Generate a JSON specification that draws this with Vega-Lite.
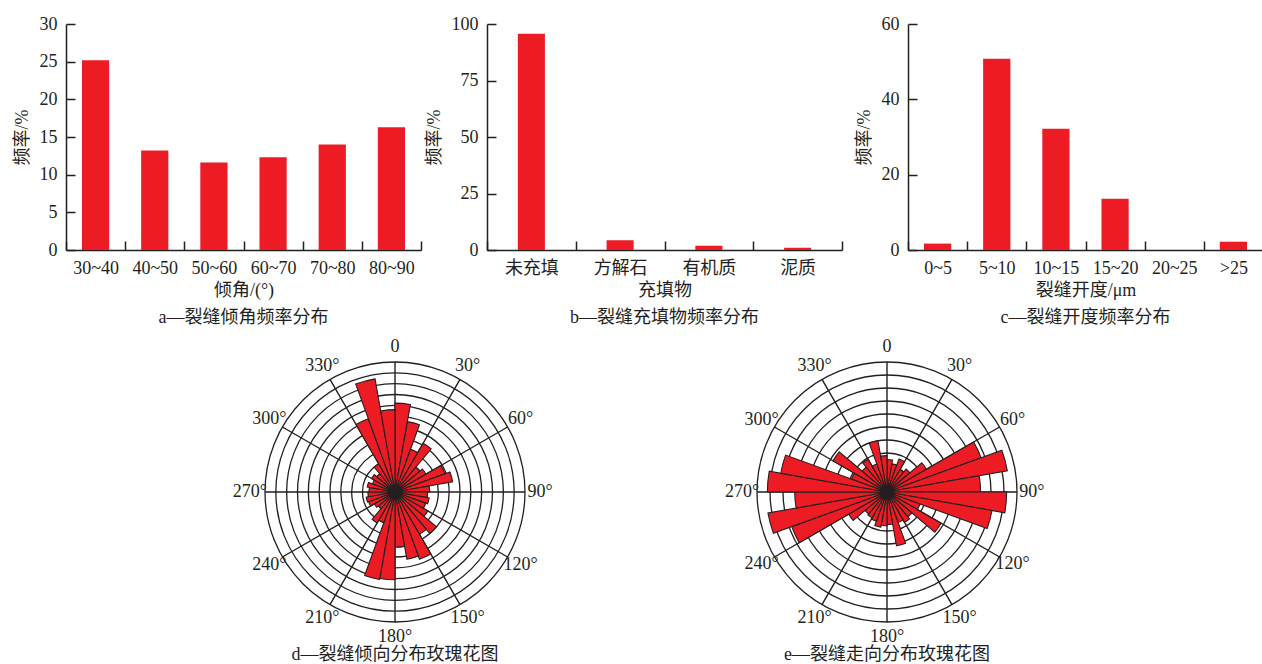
{
  "$schema": "https://vega.github.io/schema/vega-lite/v6.json",
  "padding": {"left": 13, "top": 15, "right": 0, "bottom": 0},
  "background": "white",
  "bounds": "flush",
  "spacing": 328,
  "config": {
    "view": {"stroke": null},
    "font": "Liberation Serif, Noto Sans CJK SC",
    "axis": {
      "labelFont": "Liberation Serif, Noto Sans CJK SC",
      "labelFontSize": 18,
      "labelColor": "#231f20",
      "titleFont": "Liberation Serif, Noto Sans CJK SC",
      "titleFontSize": 18,
      "titleFontWeight": "normal",
      "titleColor": "#231f20",
      "domainColor": "#231f20",
      "domainWidth": 1.5,
      "tickColor": "#231f20",
      "tickWidth": 1.5,
      "tickSize": -9,
      "labelPadding": 18,
      "grid": false
    },
    "axisX": {"labelAngle": 0, "titlePadding": 4},
    "axisY": {"titlePadding": 8},
    "title": {
      "font": "Liberation Serif, Noto Sans CJK SC",
      "fontSize": 18,
      "fontWeight": "normal",
      "color": "#231f20",
      "anchor": "middle",
      "frame": "group"
    }
  },
  "vconcat": [
    {
      "hconcat": [
        {
          "width": 355,
          "height": 226,
          "title": {"text": "a—裂缝倾角频率分布", "orient": "bottom", "offset": 10},
          "data": {"values": [
            {"range": "30~40", "freq": 25.2},
            {"range": "40~50", "freq": 13.2},
            {"range": "50~60", "freq": 11.6},
            {"range": "60~70", "freq": 12.3},
            {"range": "70~80", "freq": 14.0},
            {"range": "80~90", "freq": 16.3}
          ]},
          "mark": {"type": "bar", "color": "#ed1c24", "width": {"band": 0.46}},
          "encoding": {
            "x": {"field": "range", "type": "nominal", "sort": null,
                  "scale": {"paddingInner": 0, "paddingOuter": 0},
                  "axis": {"title": "倾角/(°)", "tickBand": "extent"}},
            "y": {"field": "freq", "type": "quantitative",
                  "scale": {"domain": [0, 30]},
                  "axis": {"title": "频率/%", "values": [0, 5, 10, 15, 20, 25, 30]}}
          }
        },
        {
          "width": 355,
          "height": 226,
          "title": {"text": "b—裂缝充填物频率分布", "orient": "bottom", "offset": 10},
          "data": {"values": [
            {"fill": "未充填", "freq": 95.7},
            {"fill": "方解石", "freq": 4.3},
            {"fill": "有机质", "freq": 1.9},
            {"fill": "泥质", "freq": 1.0}
          ]},
          "mark": {"type": "bar", "color": "#ed1c24", "width": {"band": 0.305}},
          "encoding": {
            "x": {"field": "fill", "type": "nominal", "sort": null,
                  "scale": {"paddingInner": 0, "paddingOuter": 0},
                  "axis": {"title": "充填物", "tickBand": "extent"}},
            "y": {"field": "freq", "type": "quantitative",
                  "scale": {"domain": [0, 100]},
                  "axis": {"title": "频率/%", "values": [0, 25, 50, 75, 100]}}
          }
        },
        {
          "width": 355,
          "height": 226,
          "title": {"text": "c—裂缝开度频率分布", "orient": "bottom", "offset": 10},
          "data": {"values": [
            {"width": "0~5", "freq": 1.7},
            {"width": "5~10", "freq": 50.8},
            {"width": "10~15", "freq": 32.2},
            {"width": "15~20", "freq": 13.6},
            {"width": "20~25", "freq": 0},
            {"width": ">25", "freq": 2.2}
          ]},
          "mark": {"type": "bar", "color": "#ed1c24", "width": {"band": 0.46}},
          "encoding": {
            "x": {"field": "width", "type": "nominal", "sort": null,
                  "scale": {"paddingInner": 0, "paddingOuter": 0},
                  "axis": {"title": "裂缝开度/μm", "tickBand": "extent"}},
            "y": {"field": "freq", "type": "quantitative",
                  "scale": {"domain": [0, 60]},
                  "axis": {"title": "频率/%", "values": [0, 20, 40, 60]}}
          }
        }
      ],
      "spacing": 66,
      "bounds": "flush"
    },
    {
      "hconcat": [
        {
          "width": 658,
          "height": 280,
          "title": {"text": "d—裂缝倾向分布玫瑰花图", "orient": "bottom", "offset": 0},
          "layer": [
            {
              "data": {"values": [{"r": 1}, {"r": 2}, {"r": 3}, {"r": 4}, {"r": 5}, {"r": 6}, {"r": 7}, {"r": 8}, {"r": 9}, {"r": 10}, {"r": 11}, {"r": 12}]},
              "mark": {"type": "arc", "theta": 0, "theta2": 6.2832, "filled": false, "stroke": "#231f20", "strokeWidth": 1.3},
              "encoding": {
                "radius": {"field": "r", "type": "quantitative", "stack": null, "scale": {"type": "linear", "domain": [0, 12], "range": [0, 130]}}
              }
            },
            {
              "data": {"values": [{"ang": 0}, {"ang": 30}, {"ang": 60}, {"ang": 90}, {"ang": 120}, {"ang": 150}, {"ang": 180}, {"ang": 210}, {"ang": 240}, {"ang": 270}, {"ang": 300}, {"ang": 330}]},
              "mark": {"type": "arc", "filled": false, "stroke": "#231f20", "strokeWidth": 1.4},
              "encoding": {
                "theta": {"field": "ang", "type": "quantitative", "stack": null, "scale": {"domain": [0, 360], "range": [0, 6.283185]}},
                "theta2": {"field": "ang"},
                "radius": {"datum": 12, "type": "quantitative", "stack": null, "scale": {"type": "linear", "domain": [0, 12], "range": [0, 130]}}
              }
            },
            {
              "data": {"values": [
                {"a0": 0, "a1": 10, "r": 8.2}, {"a0": 10, "a1": 20, "r": 6.6}, {"a0": 20, "a1": 30, "r": 4.2},
                {"a0": 30, "a1": 40, "r": 5.2}, {"a0": 40, "a1": 50, "r": 3.0}, {"a0": 50, "a1": 60, "r": 3.3},
                {"a0": 60, "a1": 70, "r": 4.9}, {"a0": 70, "a1": 80, "r": 5.4}, {"a0": 80, "a1": 90, "r": 3.2},
                {"a0": 90, "a1": 100, "r": 3.0}, {"a0": 100, "a1": 110, "r": 3.2}, {"a0": 110, "a1": 120, "r": 3.0},
                {"a0": 120, "a1": 130, "r": 3.5}, {"a0": 130, "a1": 140, "r": 5.0}, {"a0": 140, "a1": 150, "r": 4.5},
                {"a0": 150, "a1": 160, "r": 6.6}, {"a0": 160, "a1": 170, "r": 6.3}, {"a0": 170, "a1": 180, "r": 5.1},
                {"a0": 180, "a1": 190, "r": 8.1}, {"a0": 190, "a1": 200, "r": 8.2}, {"a0": 200, "a1": 210, "r": 3.0},
                {"a0": 210, "a1": 220, "r": 3.3}, {"a0": 220, "a1": 230, "r": 2.0}, {"a0": 230, "a1": 240, "r": 2.2},
                {"a0": 240, "a1": 250, "r": 2.6}, {"a0": 250, "a1": 260, "r": 2.7}, {"a0": 260, "a1": 270, "r": 2.5},
                {"a0": 270, "a1": 280, "r": 2.4}, {"a0": 280, "a1": 290, "r": 2.6}, {"a0": 290, "a1": 300, "r": 2.2},
                {"a0": 300, "a1": 310, "r": 2.5}, {"a0": 310, "a1": 320, "r": 2.2}, {"a0": 320, "a1": 330, "r": 3.0},
                {"a0": 330, "a1": 340, "r": 7.2}, {"a0": 340, "a1": 350, "r": 10.6}, {"a0": 350, "a1": 360, "r": 7.6}
              ]},
              "mark": {"type": "arc", "fill": "#ed1c24", "stroke": "#231f20", "strokeWidth": 1.1},
              "encoding": {
                "theta": {"field": "a0", "type": "quantitative", "stack": null, "scale": {"domain": [0, 360], "range": [0, 6.283185]}},
                "theta2": {"field": "a1"},
                "radius": {"field": "r", "type": "quantitative", "stack": null, "scale": {"type": "linear", "domain": [0, 12], "range": [0, 130]}}
              }
            },
            {
              "data": {"values": [{"hub": 0.7}]},
              "mark": {"type": "arc", "theta": 0, "theta2": 6.2832, "fill": "#231f20"},
              "encoding": {
                "radius": {"field": "hub", "type": "quantitative", "stack": null, "scale": {"type": "linear", "domain": [0, 12], "range": [0, 130]}}
              }
            },
            {
              "data": {"values": [
                {"ang": 0, "lab": "0"}, {"ang": 30, "lab": "30°"}, {"ang": 60, "lab": "60°"}, {"ang": 90, "lab": "90°"},
                {"ang": 120, "lab": "120°"}, {"ang": 150, "lab": "150°"}, {"ang": 180, "lab": "180°"}, {"ang": 210, "lab": "210°"},
                {"ang": 240, "lab": "240°"}, {"ang": 270, "lab": "270°"}, {"ang": 300, "lab": "300°"}, {"ang": 330, "lab": "330°"}
              ]},
              "mark": {"type": "text", "fontSize": 18, "font": "Liberation Serif", "color": "#231f20", "align": "center", "baseline": "middle"},
              "encoding": {
                "theta": {"field": "ang", "type": "quantitative", "stack": null, "scale": {"domain": [0, 360], "range": [0, 6.283185]}},
                "radius": {"datum": 13.4, "type": "quantitative", "stack": null, "scale": {"type": "linear", "domain": [0, 12], "range": [0, 130]}},
                "text": {"field": "lab"}
              }
            }
          ]
        },
        {
          "width": 280,
          "height": 280,
          "title": {"text": "e—裂缝走向分布玫瑰花图", "orient": "bottom", "offset": 0},
          "layer": [
            {
              "data": {"values": [{"r": 1}, {"r": 2}, {"r": 3}, {"r": 4}, {"r": 5}, {"r": 6}, {"r": 7}, {"r": 8}, {"r": 9}, {"r": 10}]},
              "mark": {"type": "arc", "theta": 0, "theta2": 6.2832, "filled": false, "stroke": "#231f20", "strokeWidth": 1.3},
              "encoding": {
                "radius": {"field": "r", "type": "quantitative", "stack": null, "scale": {"type": "linear", "domain": [0, 10], "range": [0, 130]}}
              }
            },
            {
              "data": {"values": [{"ang": 0}, {"ang": 30}, {"ang": 60}, {"ang": 90}, {"ang": 120}, {"ang": 150}, {"ang": 180}, {"ang": 210}, {"ang": 240}, {"ang": 270}, {"ang": 300}, {"ang": 330}]},
              "mark": {"type": "arc", "filled": false, "stroke": "#231f20", "strokeWidth": 1.4},
              "encoding": {
                "theta": {"field": "ang", "type": "quantitative", "stack": null, "scale": {"domain": [0, 360], "range": [0, 6.283185]}},
                "theta2": {"field": "ang"},
                "radius": {"datum": 10, "type": "quantitative", "stack": null, "scale": {"type": "linear", "domain": [0, 10], "range": [0, 130]}}
              }
            },
            {
              "data": {"values": [
                {"a0": 0, "a1": 10, "r": 2.5}, {"a0": 10, "a1": 20, "r": 2.2}, {"a0": 20, "a1": 30, "r": 2.7},
                {"a0": 30, "a1": 40, "r": 2.0}, {"a0": 40, "a1": 50, "r": 2.3}, {"a0": 50, "a1": 60, "r": 3.5},
                {"a0": 60, "a1": 70, "r": 7.7}, {"a0": 70, "a1": 80, "r": 9.4}, {"a0": 80, "a1": 90, "r": 7.2},
                {"a0": 90, "a1": 100, "r": 9.2}, {"a0": 100, "a1": 110, "r": 8.2}, {"a0": 110, "a1": 120, "r": 2.7},
                {"a0": 120, "a1": 130, "r": 4.8}, {"a0": 130, "a1": 140, "r": 2.5}, {"a0": 140, "a1": 150, "r": 2.7},
                {"a0": 150, "a1": 160, "r": 2.5}, {"a0": 160, "a1": 170, "r": 4.2}, {"a0": 170, "a1": 180, "r": 2.5},
                {"a0": 180, "a1": 190, "r": 2.6}, {"a0": 190, "a1": 200, "r": 2.75}, {"a0": 200, "a1": 210, "r": 2.4},
                {"a0": 210, "a1": 220, "r": 2.3}, {"a0": 220, "a1": 230, "r": 2.2}, {"a0": 230, "a1": 240, "r": 3.4},
                {"a0": 240, "a1": 250, "r": 7.8}, {"a0": 250, "a1": 260, "r": 9.3}, {"a0": 260, "a1": 270, "r": 7.1},
                {"a0": 270, "a1": 280, "r": 9.2}, {"a0": 280, "a1": 290, "r": 8.3}, {"a0": 290, "a1": 300, "r": 2.9},
                {"a0": 300, "a1": 310, "r": 4.8}, {"a0": 310, "a1": 320, "r": 2.5}, {"a0": 320, "a1": 330, "r": 2.9},
                {"a0": 330, "a1": 340, "r": 2.3}, {"a0": 340, "a1": 350, "r": 4.0}, {"a0": 350, "a1": 360, "r": 2.8}
              ]},
              "mark": {"type": "arc", "fill": "#ed1c24", "stroke": "#231f20", "strokeWidth": 1.1},
              "encoding": {
                "theta": {"field": "a0", "type": "quantitative", "stack": null, "scale": {"domain": [0, 360], "range": [0, 6.283185]}},
                "theta2": {"field": "a1"},
                "radius": {"field": "r", "type": "quantitative", "stack": null, "scale": {"type": "linear", "domain": [0, 10], "range": [0, 130]}}
              }
            },
            {
              "data": {"values": [{"hub": 0.55}]},
              "mark": {"type": "arc", "theta": 0, "theta2": 6.2832, "fill": "#231f20"},
              "encoding": {
                "radius": {"field": "hub", "type": "quantitative", "stack": null, "scale": {"type": "linear", "domain": [0, 10], "range": [0, 130]}}
              }
            },
            {
              "data": {"values": [
                {"ang": 0, "lab": "0"}, {"ang": 30, "lab": "30°"}, {"ang": 60, "lab": "60°"}, {"ang": 90, "lab": "90°"},
                {"ang": 120, "lab": "120°"}, {"ang": 150, "lab": "150°"}, {"ang": 180, "lab": "180°"}, {"ang": 210, "lab": "210°"},
                {"ang": 240, "lab": "240°"}, {"ang": 270, "lab": "270°"}, {"ang": 300, "lab": "300°"}, {"ang": 330, "lab": "330°"}
              ]},
              "mark": {"type": "text", "fontSize": 18, "font": "Liberation Serif", "color": "#231f20", "align": "center", "baseline": "middle"},
              "encoding": {
                "theta": {"field": "ang", "type": "quantitative", "stack": null, "scale": {"domain": [0, 360], "range": [0, 6.283185]}},
                "radius": {"datum": 11.15, "type": "quantitative", "stack": null, "scale": {"type": "linear", "domain": [0, 10], "range": [0, 130]}},
                "text": {"field": "lab"}
              }
            }
          ]
        }
      ],
      "spacing": 23,
      "bounds": "flush"
    }
  ]
}
